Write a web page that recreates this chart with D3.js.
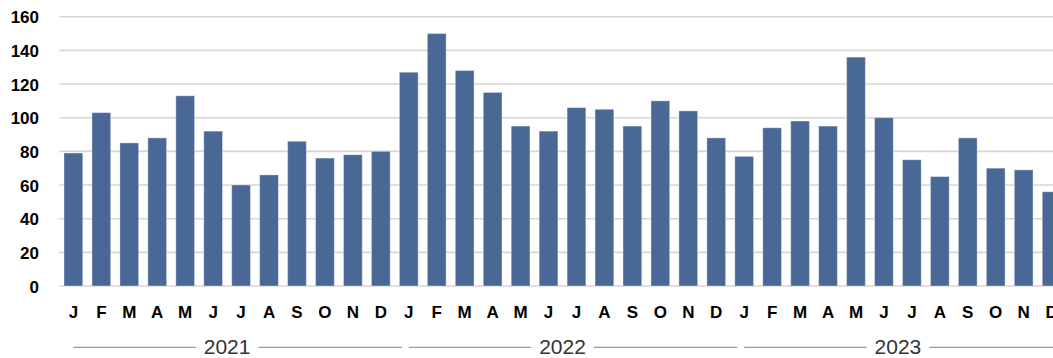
<!DOCTYPE html>
<html>
<head>
<meta charset="utf-8">
<script src="https://cdn.jsdelivr.net/npm/d3@7"></script>
<style>
  html, body { margin: 0; padding: 0; background: #fff; }
  svg { display: block; }
</style>
</head>
<body>
<svg id="chart" width="1053" height="358"></svg>
<script>
// Monthly series, Jan 2021 – Dec 2023
const years = ["2021", "2022", "2023"];
const monthLabels = ["J", "F", "M", "A", "M", "J", "J", "A", "S", "O", "N", "D"];
const values2021 = [79, 103, 85, 88, 113, 92, 60, 66, 86, 76, 78, 80];
const values2022 = [127, 150, 128, 115, 95, 92, 106, 105, 95, 110, 104, 88];
const values2023 = [77, 94, 98, 95, 136, 100, 75, 65, 88, 70, 69, 56];
const yTicks = [0, 20, 40, 60, 80, 100, 120, 140, 160];

const series = [values2021, values2022, values2023];
const data = [];
series.forEach((vals, gi) => vals.forEach((v, mi) => {
  data.push({ key: years[gi] + "-" + mi, year: years[gi], month: monthLabels[mi], value: v });
}));

const svg = d3.select("#chart");
const plotLeft = 59.4, step = 27.95;
const plotRight = plotLeft + step * data.length;
const plotTop = 16.7, plotBottom = 286;

const x = d3.scaleBand()
  .domain(data.map(d => d.key))
  .range([plotLeft, plotRight])
  .paddingInner(0.33)
  .paddingOuter(0.165);

const y = d3.scaleLinear().domain([0, 160]).range([plotBottom, plotTop]);

// Horizontal gridlines
svg.append("g").selectAll("line")
  .data(yTicks)
  .join("line")
  .attr("x1", plotLeft).attr("x2", plotRight)
  .attr("y1", d => y(d)).attr("y2", d => y(d))
  .attr("stroke", "#d6d6d6")
  .attr("stroke-width", 1.6);

// Y axis labels
const yAxis = d3.axisLeft(y).tickValues(yTicks).tickSize(0).tickPadding(0);
const yg = svg.append("g").attr("transform", "translate(39,0)").call(yAxis);
yg.select(".domain").remove();
yg.selectAll("text")
  .attr("font-family", "Liberation Sans, Arial, sans-serif")
  .attr("font-weight", "bold")
  .attr("font-size", 17)
  .attr("fill", "#000")
  .attr("dy", "0.36em");

// Bars
svg.append("g").selectAll("rect")
  .data(data)
  .join("rect")
  .attr("x", d => x(d.key))
  .attr("y", d => y(d.value))
  .attr("width", x.bandwidth())
  .attr("height", d => y(0) - y(d.value))
  .attr("fill", "#4a6896")
  .attr("stroke", "rgba(255,255,255,0.35)")
  .attr("stroke-width", 1);

// Month labels
const xAxis = d3.axisBottom(x).tickSize(0).tickPadding(0).tickFormat(k => data.find(d => d.key === k).month);
const xg = svg.append("g").attr("transform", "translate(0,303.5)").call(xAxis);
xg.select(".domain").remove();
xg.selectAll("text")
  .attr("font-family", "Liberation Sans, Arial, sans-serif")
  .attr("font-weight", "bold")
  .attr("font-size", 17)
  .attr("fill", "#000")
  .attr("dy", "0.85em");

// Year group labels with rule lines on either side
const lineY = 347.3;
years.forEach((yr, gi) => {
  const first = x(yr + "-0") - x.step() * x.paddingInner() / 2;
  const last = x(yr + "-11") + x.bandwidth() + x.step() * x.paddingInner() / 2;
  const cx = (first + last) / 2;
  const g = svg.append("g");
  const t = g.append("text")
    .attr("x", cx).attr("y", 354)
    .attr("text-anchor", "middle")
    .attr("font-family", "Liberation Sans, Arial, sans-serif")
    .attr("font-size", 21)
    .attr("fill", "#333")
    .text(yr);
  const w = t.node().getComputedTextLength();
  const gap = 8;
  g.append("line")
    .attr("x1", first + 14).attr("x2", cx - w / 2 - gap)
    .attr("y1", lineY).attr("y2", lineY)
    .attr("stroke", "#808080").attr("stroke-width", 1);
  g.append("line")
    .attr("x1", cx + w / 2 + gap).attr("x2", last + 7)
    .attr("y1", lineY).attr("y2", lineY)
    .attr("stroke", "#808080").attr("stroke-width", 1);
});
</script>
</body>
</html>
